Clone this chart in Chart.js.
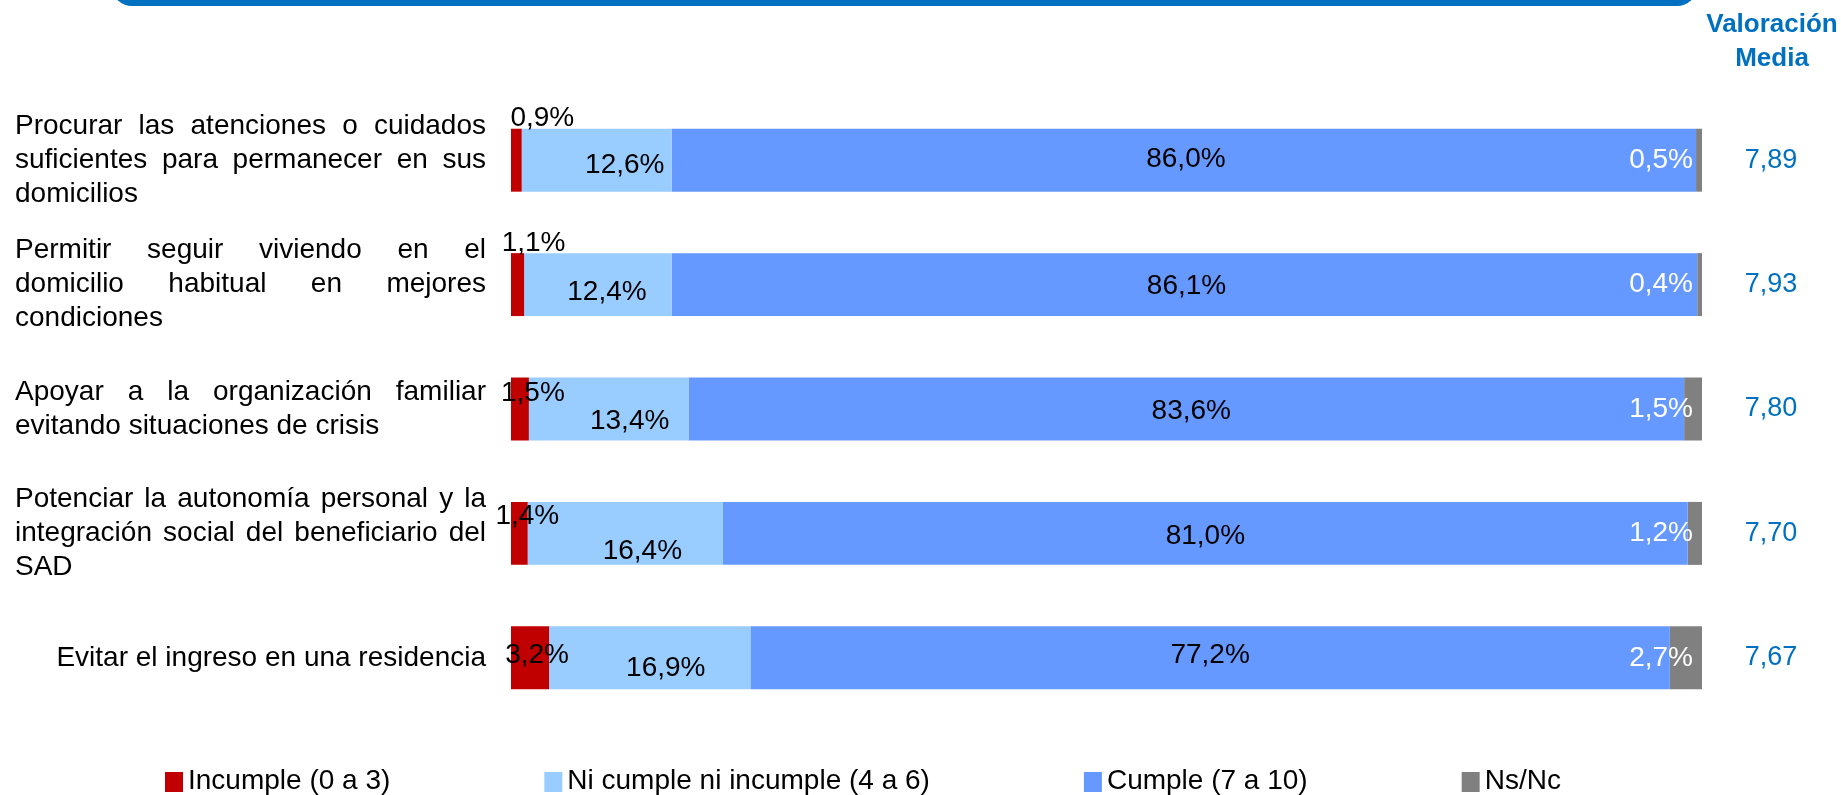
<!DOCTYPE html>
<html>
<head>
<meta charset="utf-8">
<script src="https://cdn.jsdelivr.net/npm/chart.js@4/dist/chart.umd.min.js"></script>
<style>
  body { margin: 0; background: #fff; }
  #box { width: 1841px; height: 795px; position: relative; }
</style>
</head>
<body>
<div id="box"><canvas id="chart"></canvas></div>
<script>
const categories = [
    ["Procurar las atenciones o cuidados", "suficientes para permanecer en sus", "domicilios"],
    ["Permitir seguir viviendo en el", "domicilio habitual en mejores", "condiciones"],
    ["Apoyar a la organización familiar", "evitando situaciones de crisis"],
    ["Potenciar la autonomía personal y la", "integración social del beneficiario del", "SAD"],
    ["Evitar el ingreso en una residencia"]
];
const seriesNames = ["Incumple (0 a 3)", "Ni cumple ni incumple (4 a 6)", "Cumple (7 a 10)", "Ns/Nc"];
const incumple = [0.9, 1.1, 1.5, 1.4, 3.2];
const niCumple = [12.6, 12.4, 13.4, 16.4, 16.9];
const cumple = [86.0, 86.1, 83.6, 81.0, 77.2];
const nsnc = [0.5, 0.4, 1.5, 1.2, 2.7];
const valoracion = [7.89, 7.93, 7.80, 7.70, 7.67];

const colors = ['#C00000', '#99CCFF', '#6699FF', '#808080'];
const FONT = '"Liberation Sans", Arial, sans-serif';
const BLUE = '#0070C0';

// where excel put the labels (offset from segment centre)
const nudge = [
    [[26, -42], [16, -41], [13, -16], [8, -17], [7, -3]],
    [[28, 5], [9, 8], [21, 12], [17, 18], [16, 10]],
    [[2, -1], [2, 2], [5, 2], [0, 3], [0, -3]]
];

function fmt(v, d) {
    return v.toFixed(d).replace('.', ',');
}

function drawJustified(ctx, lines, left, right, yc, lh) {
    const n = lines.length;
    const y0 = yc - (n - 1) * lh / 2;
    lines.forEach((line, k) => {
        const y = y0 + k * lh;
        if (n === 1) {
            ctx.textAlign = 'right';
            ctx.fillText(line, right, y);
            return;
        }
        ctx.textAlign = 'left';
        if (k === n - 1) {
            ctx.fillText(line, left, y);
            return;
        }
        const words = line.split(' ');
        const wordsW = words.reduce((s, w) => s + ctx.measureText(w).width, 0);
        const gap = (right - left - wordsW) / (words.length - 1);
        let x = left;
        words.forEach(w => {
            ctx.fillText(w, x, y);
            x += ctx.measureText(w).width + gap;
        });
    });
}

const extras = {
    id: 'extras',
    afterDatasetsDraw(chart) {
        const ctx = chart.ctx;
        ctx.save();
        ctx.font = '28px ' + FONT;
        ctx.textBaseline = 'middle';
        chart.data.datasets.forEach((ds, i) => {
            const meta = chart.getDatasetMeta(i);
            meta.data.forEach((bar, j) => {
                const txt = fmt(ds.data[j], 1) + '%';
                if (i === 3) {
                    ctx.fillStyle = '#fff';
                    ctx.textAlign = 'right';
                    ctx.fillText(txt, bar.x - 9, bar.y);
                } else {
                    const n = nudge[i][j];
                    ctx.fillStyle = '#000';
                    ctx.textAlign = 'center';
                    ctx.fillText(txt, (bar.x + bar.base) / 2 + n[0], bar.y + n[1]);
                }
            });
        });
        ctx.restore();
    },
    afterDraw(chart) {
        const ctx = chart.ctx;
        const yScale = chart.scales.y;
        ctx.save();

        // title box edge
        ctx.fillStyle = BLUE;
        ctx.beginPath();
        ctx.roundRect(112, -40, 1585, 46, 20);
        ctx.fill();

        // category labels
        ctx.fillStyle = '#000';
        ctx.font = '28px ' + FONT;
        ctx.textBaseline = 'middle';
        categories.forEach((lines, j) => {
            drawJustified(ctx, lines, 15, 486, yScale.getPixelForValue(j), 34);
        });

        // valoracion media
        ctx.fillStyle = BLUE;
        ctx.textAlign = 'center';
        ctx.font = 'bold 26px ' + FONT;
        ctx.fillText('Valoración', 1772, 25);
        ctx.fillText('Media', 1772, 59);
        ctx.font = '27px ' + FONT;
        valoracion.forEach((v, j) => {
            ctx.fillText(fmt(v, 2), 1771, yScale.getPixelForValue(j));
        });

        // legend
        ctx.font = '28px ' + FONT;
        ctx.textAlign = 'left';
        let x = 165;
        chart.data.datasets.forEach(ds => {
            ctx.fillStyle = ds.backgroundColor;
            ctx.fillRect(x, 772, 18, 20);
            ctx.fillStyle = '#000';
            ctx.fillText(ds.label, x + 23, 781);
            x += 23 + ctx.measureText(ds.label).width + 154;
        });
        ctx.restore();
    }
};

const datasets = [incumple, niCumple, cumple, nsnc].map((d, i) => ({
    label: seriesNames[i],
    data: d,
    backgroundColor: colors[i],
    borderWidth: 0,
    barPercentage: 0.506,
    categoryPercentage: 1
}));

new Chart(document.getElementById('chart'), {
    type: 'bar',
    data: { labels: categories, datasets: datasets },
    options: {
        indexAxis: 'y',
        responsive: true,
        maintainAspectRatio: false,
        animation: false,
        layout: { padding: { left: 511, right: 139, top: 98, bottom: 75 } },
        scales: {
            x: { stacked: true, min: 0, max: 100, display: false },
            y: { stacked: true, display: false }
        },
        plugins: {
            legend: { display: false },
            tooltip: { enabled: false }
        }
    },
    plugins: [extras]
});
</script>
</body>
</html>
